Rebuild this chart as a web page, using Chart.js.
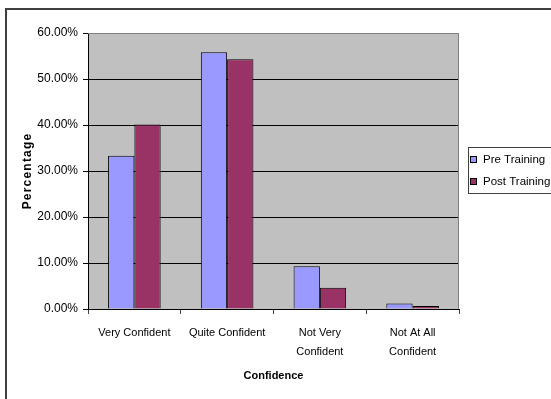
<!DOCTYPE html>
<html>
<head>
<meta charset="utf-8">
<script src="https://cdn.jsdelivr.net/npm/chart.js@4/dist/chart.umd.min.js"></script>
<style>
  html, body { margin: 0; padding: 0; background: #fff; }
  #c { display: block; }
</style>
</head>
<body>
<canvas id="c" width="551" height="399"></canvas>
<script>
// Confidence levels before and after training (percent of respondents)
const categories = [['Very Confident'], ['Quite Confident'], ['Not Very', 'Confident'], ['Not At All', 'Confident']];
const preTraining = [33.33, 55.8, 9.3, 1.2];
const postTraining = [40.1, 54.3, 4.6, 0.65];
const seriesNames = ['Pre Training', 'Post Training'];
const yTicks = [0, 10, 20, 30, 40, 50, 60];
const xTitle = 'Confidence';
const yTitle = 'Percentage';

const FONT = '"Liberation Sans", Arial, sans-serif';

// Plot background, outer frame, plot border, legend and rotated axis title
const decor = {
  id: 'decor',
  beforeDraw(chart) {
    const { ctx, chartArea: a } = chart;
    ctx.save();
    ctx.fillStyle = '#ffffff';
    ctx.fillRect(0, 0, chart.width, chart.height);
    ctx.fillStyle = '#C0C0C0';
    ctx.fillRect(a.left, a.top, a.right - a.left, a.bottom - a.top);
    ctx.strokeStyle = '#404040';
    ctx.lineWidth = 2;
    ctx.strokeRect(6, 9, chart.width + 20, chart.height + 20);
    ctx.restore();
  },
  beforeDatasetsDraw(chart) {
    const { ctx, chartArea: a } = chart;
    ctx.save();
    ctx.strokeStyle = '#808080';
    ctx.lineWidth = 1;
    ctx.beginPath();
    ctx.moveTo(a.left, a.top + 0.5);
    ctx.lineTo(a.right - 0.5, a.top + 0.5);
    ctx.lineTo(a.right - 0.5, a.bottom);
    ctx.stroke();
    ctx.restore();
  },
  afterDraw(chart) {
    const { ctx } = chart;
    ctx.save();
    // legend
    const lx = 468, ly = 147, lh = 46;
    ctx.fillStyle = '#ffffff';
    ctx.fillRect(lx, ly, chart.width - lx + 10, lh);
    ctx.strokeStyle = '#404040';
    ctx.lineWidth = 1;
    ctx.strokeRect(lx + 0.5, ly + 0.5, chart.width - lx + 10, lh);
    ctx.font = '11.5px ' + FONT;
    ctx.textBaseline = 'middle';
    ctx.textAlign = 'left';
    chart.data.datasets.forEach((ds, i) => {
      const cy = 160 + i * 22;
      ctx.fillStyle = ds.backgroundColor;
      ctx.fillRect(470, cy - 3, 6, 6);
      ctx.strokeStyle = '#000';
      ctx.strokeRect(470.5, cy - 3.5, 6, 6);
      ctx.fillStyle = '#000';
      ctx.fillText(ds.label, 483, cy);
    });
    // y-axis title
    ctx.translate(28, 171);
    ctx.rotate(-Math.PI / 2);
    ctx.font = 'bold 12px ' + FONT;
    if ('letterSpacing' in ctx) ctx.letterSpacing = '1.2px';
    ctx.textAlign = 'center';
    ctx.fillStyle = '#000';
    ctx.fillText(yTitle, 0, 0);
    ctx.restore();
  }
};

new Chart(document.getElementById('c'), {
  type: 'bar',
  data: {
    labels: categories,
    datasets: [
      { label: seriesNames[0], data: preTraining, backgroundColor: '#9999FF', borderColor: '#000', borderWidth: 1, borderSkipped: 'bottom' },
      { label: seriesNames[1], data: postTraining, backgroundColor: '#993366', borderColor: '#000', borderWidth: 1, borderSkipped: 'bottom' }
    ]
  },
  options: {
    responsive: false,
    animation: false,
    devicePixelRatio: 1,
    layout: { padding: { left: 12, top: 33, right: 92, bottom: 10 } },
    datasets: { bar: { categoryPercentage: 0.567, barPercentage: 1.0 } },
    plugins: { legend: { display: false }, tooltip: { enabled: false } },
    scales: {
      x: {
        afterFit(s) { s.height = 80; },
        grid: { offset: true, drawOnChartArea: false, drawTicks: true, tickLength: 5, tickColor: '#404040' },
        border: { display: true, color: '#000', width: 1 },
        ticks: { color: '#000', padding: 9.5, font: { family: FONT, size: 11, lineHeight: 1.7 }, maxRotation: 0, autoSkip: false },
        title: { display: true, text: xTitle, color: '#000', font: { family: FONT, size: 11, weight: 'bold', lineHeight: 1.2 }, padding: { top: 0, bottom: 6 } }
      },
      y: {
        min: 0, max: 60,
        afterFit(s) { s.width = 76; },
        afterBuildTicks(s) { s.ticks = yTicks.map(v => ({ value: v })); },
        grid: {
          color: ctx => (ctx.tick && ctx.tick.value === 60 ? '#808080' : '#000'),
          lineWidth: 1, tickLength: 5, tickColor: '#000', drawTicks: true
        },
        border: { display: true, color: '#000', width: 1 },
        ticks: { color: '#000', padding: 5, font: { family: FONT, size: 12 }, callback: v => v.toFixed(2) + '%' }
      }
    }
  },
  plugins: [decor]
});
</script>
</body>
</html>
